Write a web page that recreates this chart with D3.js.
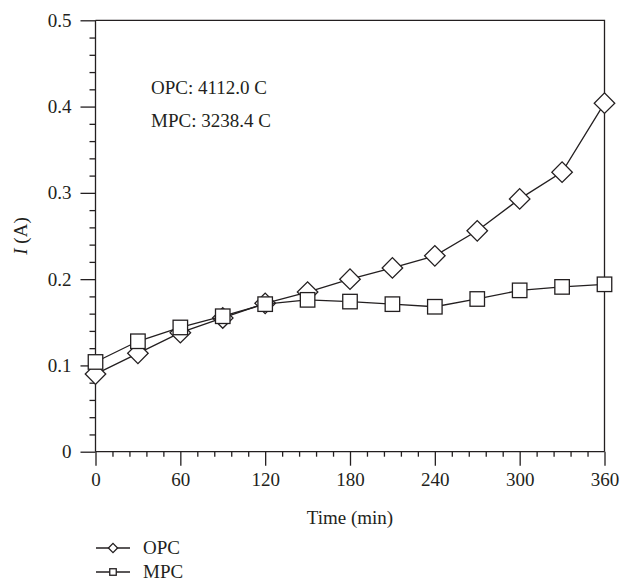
<!DOCTYPE html>
<html>
<head>
<meta charset="utf-8">
<script src="https://cdn.jsdelivr.net/npm/d3@7"></script>
<style>
  html, body { margin: 0; padding: 0; background: #fff; }
  svg { display: block; }
  text { font-family: "Liberation Serif", "DejaVu Serif", serif; fill: #231f20; }
</style>
</head>
<body>
<svg id="chart" width="620" height="584"></svg>
<script>
// ---- data ----
const times = [0, 30, 60, 90, 120, 150, 180, 210, 240, 270, 300, 330, 360];
const opcValues = [0.090, 0.114, 0.138, 0.155, 0.172, 0.185, 0.200, 0.213, 0.227, 0.256, 0.293, 0.324, 0.404];
const mpcValues = [0.104, 0.128, 0.144, 0.157, 0.171, 0.176, 0.174, 0.171, 0.168, 0.177, 0.187, 0.191, 0.194];
const seriesNames = ["OPC", "MPC"];
const xTickValues = [0, 60, 120, 180, 240, 300, 360];
const yTickValues = [0, 0.1, 0.2, 0.3, 0.4, 0.5];
const yTickLabels = ["0", "0.1", "0.2", "0.3", "0.4", "0.5"];
const annotations = ["OPC: 4112.0 C", "MPC: 3238.4 C"];

// ---- layout ----
const ink = "#231f20";
const fs = 19;
const svg = d3.select("#chart");
const x = d3.scaleLinear().domain([0, 360]).range([95.5, 604.5]);
const y = d3.scaleLinear().domain([0, 0.5]).range([451.7, 20.3]);

// minor ticks
const xMinor = d3.range(0, 361, 12).filter(v => v % 60 !== 0);
const yMinor = d3.range(0, 0.5001, 0.02).filter(v => Math.abs(v * 10 - Math.round(v * 10)) > 1e-6);

const axisG = svg.append("g");

// x axis
const gx = axisG.append("g").attr("transform", `translate(0,${y(0)})`)
  .call(d3.axisBottom(x).tickValues(xTickValues).tickSize(14).tickPadding(7).tickFormat(d3.format("d")));
axisG.append("g").attr("transform", `translate(0,${y(0)})`)
  .call(d3.axisBottom(x).tickValues(xMinor).tickSize(5).tickFormat(""))
  .call(g => g.select(".domain").remove());

// y axis
const gy = axisG.append("g").attr("transform", `translate(${x(0)},0)`)
  .call(d3.axisLeft(y).tickValues(yTickValues).tickSize(15).tickPadding(9)
    .tickFormat((d, i) => yTickLabels[i]));
axisG.append("g").attr("transform", `translate(${x(0)},0)`)
  .call(d3.axisLeft(y).tickValues(yMinor).tickSize(6).tickFormat(""))
  .call(g => g.select(".domain").remove());

axisG.selectAll(".domain").attr("stroke", ink).attr("stroke-width", 1.3);
axisG.selectAll(".tick line").attr("stroke", ink).attr("stroke-width", 1.3);
axisG.selectAll(".tick text").attr("font-size", fs)
  .attr("font-family", "Liberation Serif, DejaVu Serif, serif").attr("fill", ink);
gx.select(".domain").attr("d", `M${x(0)},0H${x(360)}`);
gy.select(".domain").attr("d", `M0,${y(0)}V${y(0.5)}`);

// top & right frame
axisG.append("path")
  .attr("d", `M${x(0)},${y(0.5)}H${x(360)}V${y(0)}`)
  .attr("fill", "none").attr("stroke", ink).attr("stroke-width", 1.3);

// axis titles
svg.append("text").attr("x", x(180)).attr("y", 524).attr("text-anchor", "middle")
  .attr("font-size", fs).text("Time (min)");
const yl = svg.append("text")
  .attr("transform", `translate(27,${(y(0) + y(0.5)) / 2}) rotate(-90)`)
  .attr("text-anchor", "middle").attr("font-size", fs);
yl.append("tspan").attr("font-style", "italic").text("I");
yl.append("tspan").text(" (A)");

// annotations
annotations.forEach((t, i) => {
  svg.append("text").attr("x", 151).attr("y", 94 + i * 33).attr("font-size", fs).text(t);
});

// ---- series ----
const line = d3.line().x(d => x(d[0])).y(d => y(d[1]));
const opcData = times.map((t, i) => [t, opcValues[i]]);
const mpcData = times.map((t, i) => [t, mpcValues[i]]);
const markerSide = 14.5;

function drawSeries(data, rotated) {
  const g = svg.append("g");
  g.append("path").datum(data).attr("d", line)
    .attr("fill", "none").attr("stroke", ink).attr("stroke-width", 1.3);
  g.selectAll("rect").data(data).join("rect")
    .attr("x", -markerSide / 2).attr("y", -markerSide / 2)
    .attr("width", markerSide).attr("height", markerSide)
    .attr("transform", d => `translate(${x(d[0])},${y(d[1])})` + (rotated ? " rotate(45)" : ""))
    .attr("fill", "#fff").attr("stroke", ink).attr("stroke-width", 1.3);
}
drawSeries(opcData, true);
drawSeries(mpcData, false);

// ---- legend ----
const legend = svg.append("g");
seriesNames.forEach((name, i) => {
  const ly = 548 + i * 24;
  legend.append("line").attr("x1", 96).attr("x2", 130).attr("y1", ly).attr("y2", ly)
    .attr("stroke", ink).attr("stroke-width", 1.3);
  const s = 6.5;
  legend.append("rect").attr("x", -s / 2).attr("y", -s / 2).attr("width", s).attr("height", s)
    .attr("transform", `translate(113,${ly})` + (i === 0 ? " rotate(45)" : ""))
    .attr("fill", "#fff").attr("stroke", ink).attr("stroke-width", 1.3);
  legend.append("text").attr("x", 143).attr("y", ly + 6).attr("font-size", fs).text(name);
});
</script>
</body>
</html>
